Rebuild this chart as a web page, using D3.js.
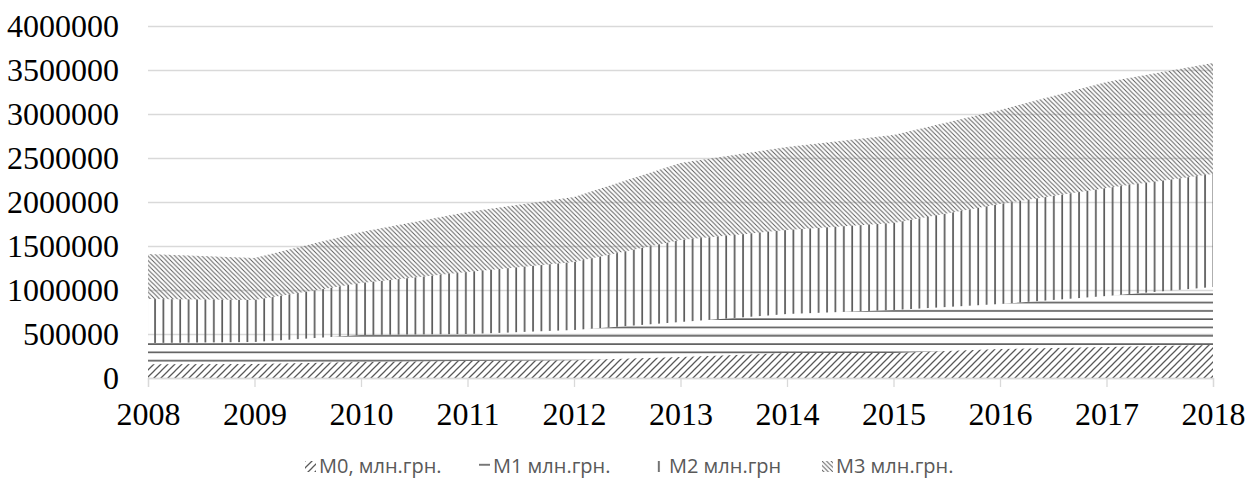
<!DOCTYPE html>
<html lang="uk">

<head>
    <meta charset="UTF-8">
    <title>Грошові агрегати</title>
    <script src="https://d3js.org/d3.v7.min.js"></script>
    <style>
        body { margin: 0; background: #fff; }
        .axis text { font: 32px "Liberation Serif", "Times New Roman", serif; fill: #000; }
        .grid line { stroke: #d9d9d9; stroke-width: 1.3px; }
        .legend text { font: 20px "Open Sans", "Liberation Sans", sans-serif; fill: #595959; }
    </style>
</head>

<body>
    <script>
        // Data (mln UAH, each series stacked on the one below)
        var years = [2008, 2009, 2010, 2011, 2012, 2013, 2014, 2015, 2016, 2017, 2018];
        var m0 = [157000, 159000, 182000, 193000, 203000, 238000, 284000, 284000, 330000, 352000, 375000];
        var m1 = [240000, 250000, 307000, 307000, 342000, 398000, 443000, 489000, 511000, 580000, 659000];
        var m2 = [500000, 477000, 591000, 705000, 773000, 932000, 955000, 989000, 1136000, 1227000, 1284000];
        var m3 = [511000, 478000, 579000, 681000, 739000, 875000, 943000, 1000000, 1068000, 1205000, 1261000];
        var seriesNames = ["M0, млн.грн.", "M1 млн.грн.", "M2 млн.грн", "M3 млн.грн."];
        var yTicks = [0, 500000, 1000000, 1500000, 2000000, 2500000, 3000000, 3500000, 4000000];

        var keys = ["m0", "m1", "m2", "m3"];
        var rows = years.map(function (yr, i) {
            return { year: yr, m0: m0[i], m1: m1[i], m2: m2[i], m3: m3[i] };
        });

        var width = 1248, height = 481;
        var plotLeft = 148, plotRight = 1213, plotTop = 26, plotBottom = 378;

        var svg = d3.select("body").append("svg")
            .attr("width", width)
            .attr("height", height);

        // hatch patterns
        var defs = svg.append("defs");
        var ink = "#595959";

        var p0 = defs.append("pattern").attr("id", "pat0")
            .attr("patternUnits", "userSpaceOnUse").attr("width", 7).attr("height", 7);
        p0.append("path").attr("d", "M0,7 L7,0 M-2,2 L2,-2 M5,9 L9,5")
            .attr("stroke", ink).attr("stroke-width", 1.25);

        var p1 = defs.append("pattern").attr("id", "pat1")
            .attr("patternUnits", "userSpaceOnUse").attr("width", 8).attr("height", 8.3);
        p1.append("rect").attr("x", 0).attr("y", 3).attr("width", 8).attr("height", 1.6).attr("fill", ink);

        var p2 = defs.append("pattern").attr("id", "pat2")
            .attr("patternUnits", "userSpaceOnUse").attr("width", 8.4).attr("height", 8);
        p2.append("rect").attr("x", 3).attr("y", 0).attr("width", 1.7).attr("height", 8).attr("fill", ink);

        var p3 = defs.append("pattern").attr("id", "pat3")
            .attr("patternUnits", "userSpaceOnUse").attr("width", 4.5).attr("height", 4.5);
        p3.append("path").attr("d", "M0,0 L4.5,4.5 M-1,3.5 L1,5.5 M3.5,-1 L5.5,1")
            .attr("stroke", ink).attr("stroke-width", 0.95);

        var fills = ["url(#pat0)", "url(#pat1)", "url(#pat2)", "url(#pat3)"];

        var x = d3.scalePoint().domain(years).range([plotLeft, plotRight]);
        var y = d3.scaleLinear().domain([0, 4000000]).range([plotBottom, plotTop]);

        // grid
        svg.append("g").attr("class", "grid")
            .attr("transform", "translate(" + plotLeft + ",0)")
            .call(d3.axisLeft(y).tickValues(yTicks).tickSize(-(plotRight - plotLeft)).tickFormat(""))
            .call(function (g) { g.select(".domain").remove(); });

        // stacked areas
        var stacked = d3.stack().keys(keys)(rows);
        var area = d3.area()
            .x(function (d) { return x(d.data.year); })
            .y0(function (d) { return y(d[0]); })
            .y1(function (d) { return y(d[1]); });

        svg.append("g").selectAll("path")
            .data(stacked)
            .enter()
            .append("path")
            .attr("d", area)
            .attr("fill", function (d, i) { return fills[i]; });

        // y axis labels
        var yAxis = svg.append("g").attr("class", "axis")
            .attr("transform", "translate(" + plotLeft + ",0)")
            .call(d3.axisLeft(y).tickValues(yTicks).tickSize(0).tickPadding(29).tickFormat(d3.format("d")));
        yAxis.select(".domain").remove();
        yAxis.selectAll("text").attr("dy", "0.34em");

        // x axis
        var xAxis = svg.append("g").attr("class", "axis")
            .attr("transform", "translate(0," + plotBottom + ")")
            .call(d3.axisBottom(x).tickSize(9).tickPadding(15));
        xAxis.select(".domain").attr("stroke", "#d9d9d9").attr("stroke-width", 1.3);
        xAxis.selectAll(".tick line").attr("stroke", "#d9d9d9").attr("stroke-width", 1.3);

        // legend
        var legendX = [305, 479, 655, 822];
        var legend = svg.append("g").attr("class", "legend");
        var item = legend.selectAll("g")
            .data(seriesNames)
            .enter()
            .append("g")
            .attr("transform", function (d, i) { return "translate(" + legendX[i] + ",461)"; });

        item.append("rect")
            .attr("width", 11).attr("height", 11)
            .attr("fill", function (d, i) { return fills[i]; });

        item.append("text")
            .attr("x", 14)
            .attr("y", 12)
            .text(function (d) { return d; });
    </script>
</body>
</html>
